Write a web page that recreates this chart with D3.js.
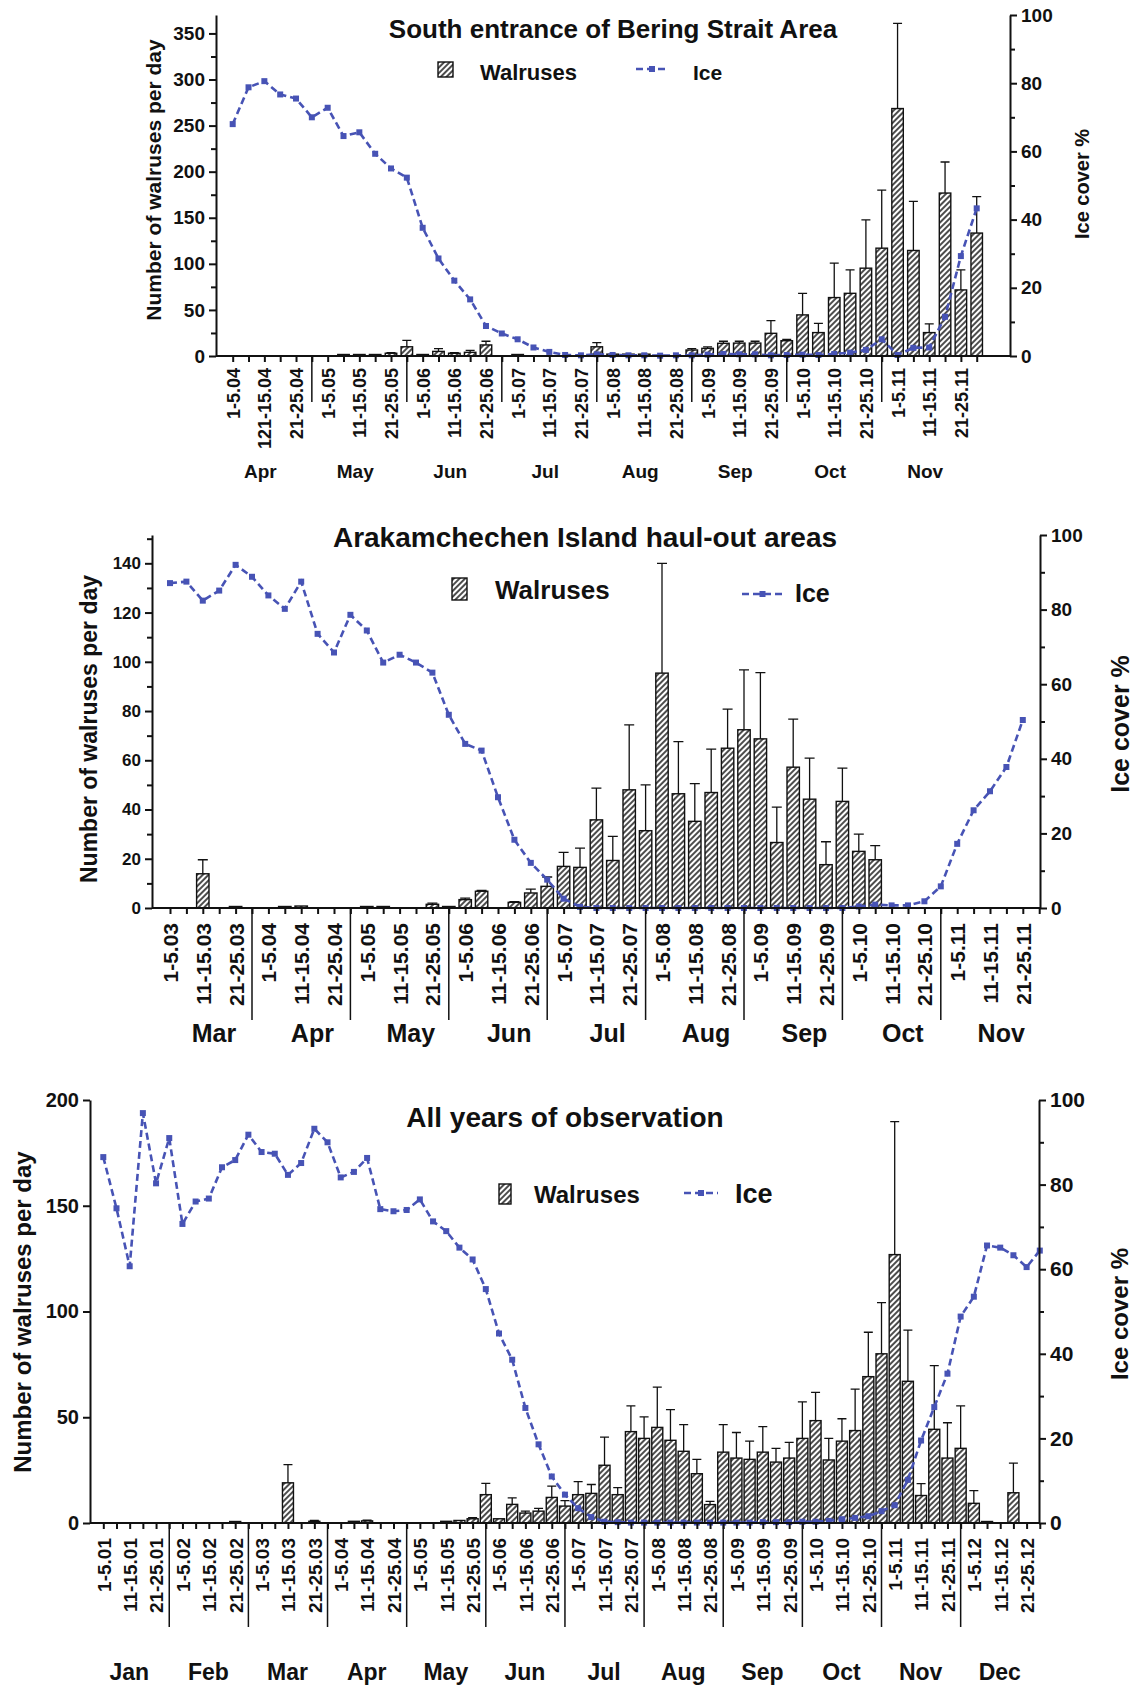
<!doctype html>
<html lang="en">
<head>
<meta charset="utf-8">
<title>Walruses and ice cover</title>
<script src="https://cdn.jsdelivr.net/npm/d3@7/dist/d3.min.js"></script>
<style>
  body { margin: 0; background: #fff; }
  svg text { font-family: "Liberation Sans", Arial, Helvetica, sans-serif; font-weight: bold; fill: #111; }
</style>
</head>
<body>
<svg id="chart" width="1138" height="1688"></svg>
<script>
// each month is split in six pentads, only 1-5, 11-15 and 21-25 get a label
const pentadLabels = ["1-5", "", "11-15", "", "21-25", ""];
const iceTicks = [0, 20, 40, 60, 80, 100];
const iceMinor = [10, 30, 50, 70, 90];

// ---- South entrance of Bering Strait Area (Apr - Nov)
const beringMonths = ["Apr", "May", "Jun", "Jul", "Aug", "Sep", "Oct", "Nov"];
const beringCodes = ["04", "05", "06", "07", "08", "09", "10", "11"];
const beringLeftTicks = [0, 50, 100, 150, 200, 250, 300, 350];
const beringLeftMinor = [25, 75, 125, 175, 225, 275, 325];
const beringWalrus = [0, 0, 0, 0, 0, 0, 0, 0.5, 1, 1.5, 3, 10, 1, 5, 3, 4, 12, 0,
  0.5, 0, 0, 0, 0, 10, 2, 2, 2, 0, 0, 6.5, 8.3, 13.8, 14, 14, 24.6, 16.6,
  44.6, 25.4, 63.4, 68, 95.3, 117, 268.5, 114.5, 25.4, 176.8, 71.7, 133.4];
const beringSd = [0, 0, 0, 0, 0, 0, 0, 0, 0, 0, 0.5, 7, 0, 3, 0.5, 2, 4, 0,
  0, 0, 0, 0, 0, 4.5, 0, 0, 0, 0, 0, 1.5, 1.5, 2.2, 2, 2, 13.8, 1.5,
  23.4, 10, 37.3, 25.5, 52.5, 63, 92.5, 53.2, 9.4, 33.7, 21.8, 39.6];
const beringIce = [68.0, 78.8, 80.6, 76.7, 75.5, 70.0, 72.8, 64.5, 65.6, 59.3, 55.0, 52.3,
  37.6, 28.6, 22.1, 16.6, 8.8, 6.6, 4.9, 2.5, 1.2, 0.3, 0.2, 0.5,
  0.3, 0.2, 0.2, 0.1, 0.2, 0.2, 0.4, 0.6, 0.5, 0.5, 0.2, 0.3,
  0.4, 0.3, 0.6, 1.0, 1.8, 4.9, 0.3, 2.4, 2.5, 11.5, 29.3, 43.3];

// ---- Arakamchechen Island haul-out areas (Mar - Nov)
const arakMonths = ["Mar", "Apr", "May", "Jun", "Jul", "Aug", "Sep", "Oct", "Nov"];
const arakCodes = ["03", "04", "05", "06", "07", "08", "09", "10", "11"];
const arakLeftTicks = [0, 20, 40, 60, 80, 100, 120, 140];
const arakLeftMinor = [10, 30, 50, 70, 90, 110, 130, 150];
const arakWalrus = [0, 0, 13.9, 0, 0.5, 0, 0, 0.3, 0.8, 0, 0, 0,
  0.2, 0.2, 0, 0, 1.5, 0.5, 3.4, 6.8, 0, 2.3, 6.1, 8.8,
  16.9, 16.5, 35.8, 19.3, 48, 31.4, 95.4, 46.4, 35.2, 46.9, 64.9, 72.4,
  68.7, 26.6, 57.2, 44.2, 17.6, 43.3, 23, 19.6, 0, 0, 0, 0,
  0, 0, 0, 0, 0, 0];
const arakSd = [0, 0, 5.7, 0, 0, 0, 0, 0, 0, 0, 0, 0,
  0, 0, 0, 0, 0.5, 0, 0.6, 0.3, 0, 0.3, 1.6, 3.8,
  5.7, 7.8, 12.9, 9.8, 26.4, 18.6, 44.6, 21.2, 15.3, 17.6, 15.9, 24.3,
  26.9, 14.4, 19.5, 16.7, 9.3, 13.5, 7, 5.7, 0, 0, 0, 0,
  0, 0, 0, 0, 0, 0];
const arakIce = [87.1, 87.5, 82.4, 85.1, 92.0, 88.8, 83.8, 80.2, 87.5, 73.5, 68.5, 78.6,
  74.4, 65.8, 67.9, 65.8, 63.1, 51.8, 44.0, 42.2, 29.7, 18.3, 12.1, 7.6,
  2.5, 0.3, 0, 0, 0, 0, 0, 0, 0, 0, 0, 0,
  0, 0, 0, 0, 0, 0, 0.4, 0.9, 0.7, 0.7, 1.8, 5.8,
  17.2, 26.2, 31.3, 37.8, 50.4, null];

// ---- All years of observation (Jan - Dec)
const allMonths = ["Jan", "Feb", "Mar", "Apr", "May", "Jun", "Jul", "Aug", "Sep", "Oct", "Nov", "Dec"];
const allCodes = ["01", "02", "03", "04", "05", "06", "07", "08", "09", "10", "11", "12"];
const allLeftTicks = [0, 50, 100, 150, 200];
const allWalrus = [0, 0, 0, 0, 0, 0, 0, 0, 0, 0, 0.3, 0,
  0, 0, 19, 0, 0.8, 0, 0, 0.8, 1, 0, 0, 0,
  0, 0, 0.8, 1.2, 2, 13.4, 2, 8.8, 4.7, 5.6, 12.1, 8,
  13.4, 14, 27.3, 13.4, 43.2, 40, 45.2, 39.1, 33.9, 23.3, 8.7, 33.5,
  30.7, 30.1, 33.5, 28.8, 30.7, 40, 48.4, 29.8, 38.7, 43.7, 69.2, 80,
  126.9, 67, 13, 44.3, 30.7, 35.3, 9.3, 0.5, 0, 14.3, 0, 0];
const allSd = [0, 0, 0, 0, 0, 0, 0, 0, 0, 0, 0, 0,
  0, 0, 8.6, 0, 0.4, 0, 0, 0, 0.3, 0, 0, 0,
  0, 0, 0, 0, 0.5, 5.3, 0, 3.1, 0.9, 1.3, 5.3, 2.6,
  6.2, 4.2, 13.3, 3.3, 12.2, 10.2, 19, 14.5, 12.6, 6.8, 1.5, 13,
  12.1, 8.6, 12.1, 6.5, 7.4, 17.3, 13.4, 10.2, 10.6, 19.6, 21, 24.2,
  62.9, 24.2, 5.6, 30.1, 16.7, 20.1, 6, 0, 0, 14, 0, 0];
const allIce = [86.5, 74.4, 60.7, 96.9, 80.3, 91.0, 70.7, 76.0, 76.7, 84.1, 85.8, 91.8,
  87.7, 87.3, 82.3, 85.1, 93.2, 90.0, 81.7, 83.0, 86.3, 74.2, 73.7, 74.0,
  76.5, 71.3, 69.0, 65.1, 62.3, 55.3, 44.8, 38.6, 27.2, 18.6, 11.0, 6.7,
  3.5, 1.4, 0.3, 0.2, 0.1, 0.1, 0.1, 0.1, 0.1, 0.1, 0.1, 0.1,
  0.1, 0.1, 0.2, 0.2, 0.2, 0.3, 0.3, 0.5, 0.9, 1.2, 1.6, 2.8,
  4.2, 10.2, 19.5, 27.4, 35.3, 48.8, 53.5, 65.6, 65.1, 63.3, 60.5, 64.4];

function tickLabels(codes) {
  return codes.flatMap(c => pentadLabels.map(p => p ? p + "." + c : ""));
}
const beringTicks = tickLabels(beringCodes);
beringTicks[2] = "121-15.04"; // printed like this in the source figure

const ICE = "#4753b5";
const INK = "#111";

const svg = d3.select("#chart");
const defs = svg.append("defs");
const hatch = defs.append("pattern").attr("id", "hatch")
  .attr("patternUnits", "userSpaceOnUse").attr("width", 4).attr("height", 4)
  .attr("patternTransform", "rotate(45)");
hatch.append("rect").attr("width", 4).attr("height", 4).attr("fill", "#fff");
hatch.append("line").attr("x1", 2).attr("y1", 0).attr("x2", 2).attr("y2", 4)
  .attr("stroke", INK).attr("stroke-width", 1.5);

function styleAxis(ax, size) {
  ax.attr("font-size", size).attr("font-family", null);
  ax.selectAll("path.domain, line").attr("stroke", INK).attr("stroke-width", 2);
  ax.selectAll("text").attr("fill", INK);
}

function drawPanel(p) {
  const n = p.walrus.length;
  const x = d3.scalePoint().domain(d3.range(n)).range([p.x0, p.x0 + (n - 1) * p.step]);
  const yL = d3.scaleLinear().domain([0, p.leftMax]).range([p.yZero, p.yTop]);
  const yR = d3.scaleLinear().domain([0, 100]).range([p.yZero, p.yTop]);
  const g = svg.append("g");

  // month separators under the axis
  g.selectAll(".sep").data(d3.range(p.months.length - 1)).join("line")
    .attr("x1", m => x(m * 6 + 5)).attr("x2", m => x(m * 6 + 5))
    .attr("y1", p.yZero).attr("y2", p.sepBottom)
    .attr("stroke", INK).attr("stroke-width", 1.5);

  // hatched bars
  const bars = d3.range(n).filter(i => p.walrus[i] > 0);
  g.selectAll(".bar").data(bars).join("rect")
    .attr("x", i => x(i) - p.barW / 2)
    .attr("y", i => Math.min(yL(p.walrus[i]), p.yZero - 1.5))
    .attr("width", p.barW)
    .attr("height", i => Math.max(p.yZero - yL(p.walrus[i]), 1.5))
    .attr("fill", "url(#hatch)").attr("stroke", INK).attr("stroke-width", 1.4);

  // upper error bars
  g.selectAll(".err").data(bars.filter(i => p.sd[i] > 0)).join("path")
    .attr("d", i => {
      const cx = x(i), y0 = yL(p.walrus[i]), y1 = yL(p.walrus[i] + p.sd[i]);
      return `M${cx},${y0}V${y1}M${cx - p.capW / 2},${y1}H${cx + p.capW / 2}`;
    })
    .attr("fill", "none").attr("stroke", INK).attr("stroke-width", 1.3);

  // ice cover line
  const line = d3.line().defined(d => d != null).x((d, i) => x(i)).y(d => yR(d));
  g.append("path").datum(p.ice).attr("d", line)
    .attr("fill", "none").attr("stroke", ICE).attr("stroke-width", 2.6)
    .attr("stroke-dasharray", "7,4");
  g.selectAll(".mk").data(d3.range(n).filter(i => p.ice[i] != null)).join("rect")
    .attr("x", i => x(i) - 3).attr("y", i => yR(p.ice[i]) - 3)
    .attr("width", 6).attr("height", 6).attr("fill", ICE);

  // x axis
  g.append("line").attr("x1", p.leftAxisX).attr("x2", p.rightAxisX)
    .attr("y1", p.yZero).attr("y2", p.yZero).attr("stroke", INK).attr("stroke-width", 2);
  const xAx = g.append("g").attr("transform", `translate(0,${p.yZero})`)
    .call(d3.axisBottom(x).tickSize(6).tickSizeOuter(0).tickFormat(i => p.ticks[i]));
  xAx.select(".domain").remove();
  styleAxis(xAx, p.xFont);
  xAx.selectAll("text").attr("x", 0).attr("y", 0).attr("dy", "0.36em")
    .attr("text-anchor", "end")
    .attr("transform", `translate(0,${p.labelTop - p.yZero}) rotate(-90)`);

  // left axis
  const lAx = g.append("g").attr("transform", `translate(${p.leftAxisX},0)`)
    .call(d3.axisLeft(yL).tickValues(p.leftTicks).tickSize(7).tickSizeOuter(0).tickPadding(4));
  styleAxis(lAx, p.leftFont);
  if (p.leftMinor.length) {
    const lMin = g.append("g").attr("transform", `translate(${p.leftAxisX},0)`)
      .call(d3.axisLeft(yL).tickValues(p.leftMinor).tickSize(5).tickFormat(""));
    lMin.select(".domain").remove();
    styleAxis(lMin, 10);
  }

  // right axis
  const rAx = g.append("g").attr("transform", `translate(${p.rightAxisX},0)`)
    .call(d3.axisRight(yR).tickValues(iceTicks).tickSize(7).tickSizeOuter(0).tickPadding(4));
  styleAxis(rAx, p.rightFont);
  const rMin = g.append("g").attr("transform", `translate(${p.rightAxisX},0)`)
    .call(d3.axisRight(yR).tickValues(iceMinor).tickSize(5).tickFormat(""));
  rMin.select(".domain").remove();
  styleAxis(rMin, 10);

  // month names
  g.selectAll(".month").data(p.months).join("text")
    .attr("x", (m, k) => (x(k * 6) + x(k * 6 + 5)) / 2 + p.monthOff)
    .attr("y", p.monthY).attr("text-anchor", "middle")
    .attr("font-size", p.monthFont).text(m => m);

  // title, axis titles
  g.append("text").attr("x", p.titleX).attr("y", p.titleY).attr("text-anchor", "middle")
    .attr("font-size", p.titleFont).text(p.title);
  g.append("text").attr("transform", `translate(${p.yLabel[0]},${p.yLabel[1]}) rotate(-90)`)
    .attr("text-anchor", "middle").attr("dominant-baseline", "central")
    .attr("font-size", p.yLabel[2]).text("Number of walruses per day");
  g.append("text").attr("transform", `translate(${p.rLabel[0]},${p.rLabel[1]}) rotate(-90)`)
    .attr("text-anchor", "middle").attr("dominant-baseline", "central")
    .attr("font-size", p.rLabel[2]).text("Ice cover %");

  // legend
  const lg = p.legend;
  g.append("rect").attr("x", lg.box[0]).attr("y", lg.box[1]).attr("width", lg.box[2]).attr("height", lg.box[3])
    .attr("fill", "url(#hatch)").attr("stroke", INK).attr("stroke-width", 1.4);
  g.append("text").attr("x", lg.walX).attr("y", lg.walY).attr("font-size", lg.walFont).text("Walruses");
  g.append("line").attr("x1", lg.ice[0]).attr("x2", lg.ice[1]).attr("y1", lg.ice[2]).attr("y2", lg.ice[2])
    .attr("stroke", ICE).attr("stroke-width", 2.6).attr("stroke-dasharray", "7,4");
  g.append("rect").attr("x", (lg.ice[0] + lg.ice[1]) / 2 - 3).attr("y", lg.ice[2] - 3)
    .attr("width", 6).attr("height", 6).attr("fill", ICE);
  g.append("text").attr("x", lg.iceX).attr("y", lg.iceY).attr("font-size", lg.iceFont).text("Ice");
}

drawPanel({
  walrus: beringWalrus, sd: beringSd, ice: beringIce, months: beringMonths, ticks: beringTicks,
  x0: 232.7, step: 15.83, barW: 11.5, capW: 9,
  leftAxisX: 216, rightAxisX: 1010, yZero: 356, yTop: 15, leftMax: 370,
  leftTicks: beringLeftTicks, leftMinor: beringLeftMinor, leftFont: 19, rightFont: 19,
  xFont: 18, labelTop: 368, sepBottom: 402, monthFont: 19, monthY: 478, monthOff: -12,
  title: "South entrance of Bering Strait Area", titleX: 613, titleY: 38, titleFont: 26,
  yLabel: [153, 180, 21], rLabel: [1082, 184, 20],
  legend: { box: [438, 62, 15, 15], walX: 480, walY: 80, walFont: 22,
    ice: [636, 668, 69], iceX: 693, iceY: 80, iceFont: 21 }
});

drawPanel({
  walrus: arakWalrus, sd: arakSd, ice: arakIce, months: arakMonths, ticks: tickLabels(arakCodes),
  x0: 170, step: 16.4, barW: 12.4, capW: 10,
  leftAxisX: 152, rightAxisX: 1040, yZero: 908, yTop: 535, leftMax: 151.5,
  leftTicks: arakLeftTicks, leftMinor: arakLeftMinor, leftFont: 17, rightFont: 19,
  xFont: 21, labelTop: 923, sepBottom: 1020, monthFont: 25, monthY: 1042, monthOff: 3,
  title: "Arakamchechen Island haul-out areas", titleX: 585, titleY: 547, titleFont: 28,
  yLabel: [89, 729, 23], rLabel: [1120, 724, 25],
  legend: { box: [452, 578, 15, 22], walX: 495, walY: 599, walFont: 26,
    ice: [742, 783, 594], iceX: 795, iceY: 602, iceFont: 25 }
});

drawPanel({
  walrus: allWalrus, sd: allSd, ice: allIce, months: allMonths, ticks: tickLabels(allCodes),
  x0: 103.3, step: 13.19, barW: 11, capW: 9,
  leftAxisX: 90, rightAxisX: 1039, yZero: 1523, yTop: 1100, leftMax: 200,
  leftTicks: allLeftTicks, leftMinor: [], leftFont: 20, rightFont: 21,
  xFont: 19, labelTop: 1538, sepBottom: 1627, monthFont: 23, monthY: 1680, monthOff: -7,
  title: "All years of observation", titleX: 565, titleY: 1127, titleFont: 28,
  yLabel: [22, 1312, 24], rLabel: [1119, 1314, 24],
  legend: { box: [499, 1184, 12, 20], walX: 534, walY: 1203, walFont: 24,
    ice: [684, 718, 1193], iceX: 735, iceY: 1203, iceFont: 27 }
});
</script>
</body>
</html>
